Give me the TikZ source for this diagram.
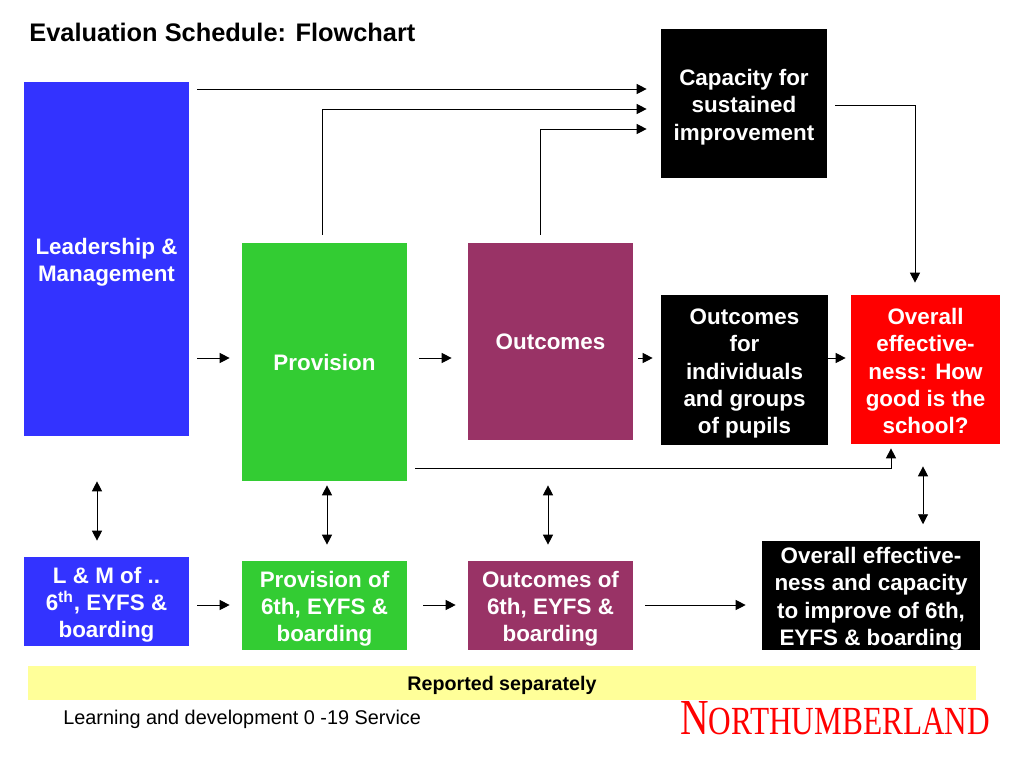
\documentclass[tikz,border=0pt]{standalone}
\usepackage{fontspec}
\setmainfont{Liberation Sans}
\newfontfamily\logofont{Liberation Serif}
\usetikzlibrary{arrows.meta,positioning}
\definecolor{leaderblue}{HTML}{3333FF}
\definecolor{provgreen}{HTML}{33CC33}
\definecolor{outplum}{HTML}{993366}
\definecolor{bandyellow}{HTML}{FFFF99}
% several lines of text sit a little lower in their box
\newcommand{\lowtext}{\rule{0pt}{13pt}}
\tikzset{
  box/.style={rectangle,inner sep=0pt,text=white,align=center,
    font=\fontsize{12.75}{15.6}\selectfont\bfseries},
  flow/.style={draw=black,line width=0.55pt,-{Triangle[length=0.2cm,width=0.2cm]}},
  twoway/.style={draw=black,line width=0.55pt,{Triangle[length=0.2cm,width=0.2cm]}-{Triangle[length=0.2cm,width=0.2cm]}}
}
\begin{document}
\begin{tikzpicture}[x=0.02cm,y=-0.02cm]
  \useasboundingbox (0,0) rectangle (1024,768);
  % top row and left column
  \node[box,fill=leaderblue,minimum width=3.3cm,minimum height=7.08cm] (leadership) at (106.5,259) {\lowtext Leadership \&\\Management};
  \node[box,fill=provgreen,minimum width=3.3cm,minimum height=4.76cm] (provision) at (324.5,362) {Provision};
  \node[box,fill=outplum,minimum width=3.3cm,minimum height=3.94cm] (outcomes) at (550.5,341.5) {Outcomes};
  \node[box,fill=black,minimum width=3.32cm,minimum height=2.98cm] (capacity) at (744,103.5) {\lowtext Capacity for\\sustained\\improvement};
  \node[box,fill=black,minimum width=3.34cm,minimum height=3cm] (pupils) at (744.5,370) {\lowtext Outcomes\\for\\individuals\\and groups\\of pupils};
  \node[box,fill=red,minimum width=2.98cm,minimum height=2.98cm] (overall) at (925.5,369.5) {\rule{0pt}{11pt}Overall\\effective-\\ness: How\\good is the\\school?};
  % bottom row
  \node[box,fill=leaderblue,minimum width=3.3cm,minimum height=1.78cm] (lmBoard) at (106.5,601.5) {\lowtext L \& M of ..\\6\textsuperscript{th}, EYFS \&\\boarding};
  \node[box,fill=provgreen,minimum width=3.3cm,minimum height=1.78cm] (provBoard) at (324.5,605.5) {\lowtext Provision of\\6th, EYFS \&\\boarding};
  \node[box,fill=outplum,minimum width=3.3cm,minimum height=1.78cm] (outBoard) at (550.5,605.5) {\lowtext Outcomes of\\6th, EYFS \&\\boarding};
  \node[box,fill=black,minimum width=4.36cm,minimum height=2.18cm] (overallBoard) at (871,595.5) {\lowtext Overall effective-\\ness and capacity\\to improve of 6th,\\EYFS \& boarding};
  % texts
  \node[anchor=west,inner sep=0pt,font=\fontsize{14.45}{17}\selectfont\bfseries] (title) at (29,32) {Evaluation Schedule: Flowchart};
  \node[rectangle,fill=bandyellow,minimum width=18.96cm,minimum height=0.68cm] (band) at (502,683) {};
  \node[inner sep=0pt,font=\fontsize{11.2}{13}\selectfont\bfseries] (reported) at (502,685) {Reported separately};
  \node[anchor=west,inner sep=0pt,font=\fontsize{11.3}{13}\selectfont] (service) at (63,719) {Learning and development 0 -19 Service};
  \node[inner sep=0pt,text=red] (logo) at (835,718) {\resizebox{6.2cm}{0.66cm}{\logofont{\fontsize{12}{12}\selectfont N}{\fontsize{9.5}{12}\selectfont ORTHUMBERLAND}}};
  % helper rows and columns
  \coordinate (rowMid) at (0,358);
  \coordinate (rowLow) at (0,605);
  \coordinate (rowCapA) at (0,89);
  \coordinate (rowCapB) at (0,109);
  \coordinate (rowCapC) at (0,129);
  \coordinate (rowCapOut) at (0,105);
  \coordinate (rowBack) at (0,468);
  \coordinate (colProvUp) at (322,0);
  \coordinate (colOutUp) at (540,0);
  \coordinate (colBack) at (891,0);
  \coordinate (colCap) at (915,0);
  \coordinate (colLead) at (97,0);
  \coordinate (colProv) at (327,0);
  \coordinate (colOut) at (548,0);
  \coordinate (colOver) at (923,0);
  % middle row
  \draw[flow,shorten <=0.16cm,shorten >=0.24cm] (leadership.east |- rowMid) -- (provision.west |- rowMid);
  \draw[flow,shorten <=0.24cm,shorten >=0.32cm] (provision.east |- rowMid) -- (outcomes.west |- rowMid);
  \draw[flow,shorten <=0.1cm,shorten >=0.16cm] (outcomes.east |- rowMid) -- (pupils.west |- rowMid);
  \draw[flow,shorten >=0.1cm] (pupils.east |- rowMid) -- (overall.west |- rowMid);
  % into capacity
  \draw[flow,shorten <=0.16cm,shorten >=0.28cm] (leadership.east |- rowCapA) -- (capacity.west |- rowCapA);
  \draw[flow,shorten <=0.16cm,shorten >=0.28cm] (colProvUp |- provision.north) |- (capacity.west |- rowCapB);
  \draw[flow,shorten <=0.16cm,shorten >=0.28cm] (colOutUp |- outcomes.north) |- (capacity.west |- rowCapC);
  % into overall
  \draw[flow,shorten <=0.16cm,shorten >=0.24cm] (capacity.east |- rowCapOut) -| (colCap |- overall.north);
  \draw[flow,shorten <=0.16cm,shorten >=0.08cm] (provision.east |- rowBack) -| (colBack |- overall.south);
  % two way
  \draw[twoway,shorten <=0.9cm,shorten >=0.32cm] (colLead |- leadership.south) -- (colLead |- lmBoard.north);
  \draw[twoway,shorten <=0.08cm,shorten >=0.32cm] (colProv |- provision.south) -- (colProv |- provBoard.north);
  \draw[twoway,shorten <=0.9cm,shorten >=0.32cm] (colOut |- outcomes.south) -- (colOut |- outBoard.north);
  \draw[twoway,shorten <=0.44cm,shorten >=0.32cm] (colOver |- overall.south) -- (colOver |- overallBoard.north);
  % bottom row
  \draw[flow,shorten <=0.16cm,shorten >=0.24cm] (lmBoard.east |- rowLow) -- (provBoard.west |- rowLow);
  \draw[flow,shorten <=0.32cm,shorten >=0.24cm] (provBoard.east |- rowLow) -- (outBoard.west |- rowLow);
  \draw[flow,shorten <=0.24cm,shorten >=0.32cm] (outBoard.east |- rowLow) -- (overallBoard.west |- rowLow);
\end{tikzpicture}
\end{document}
